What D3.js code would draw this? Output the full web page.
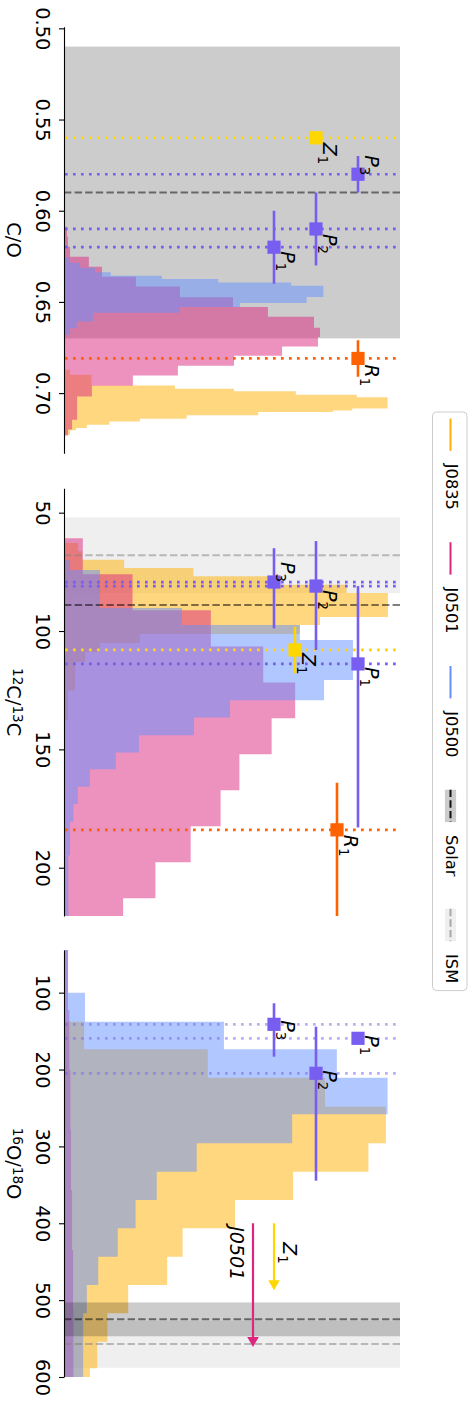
<!DOCTYPE html>
<html><head><meta charset="utf-8">
<script src="https://cdn.jsdelivr.net/npm/d3@7/dist/d3.min.js"></script>
<style>
body{margin:0;background:#fff}
svg{display:block}
text{font-family:"DejaVu Sans",sans-serif;fill:#000}
</style>
</head><body>
<svg id="c" width="469" height="1405"></svg>
<script>
// ---------------- DATA ----------------
const seriesNames = ["J0835","J0501","J0500"];
const seriesColors = ["#FFB000","#DC267F","#648FFF"];

// C/O panel
const coTicks = [0.50,0.55,0.60,0.65,0.70];
const coTickLabels = ["0.50","0.55","0.60","0.65","0.70"];
const coJ0835Edges = [0.6872,0.6899,0.6958,0.6976,0.6990,0.7009,0.7023,0.7085,0.7095,0.7103,0.7122,0.7140,0.7155,0.7173,0.7191,0.7204,0.7228];
const coJ0835Counts = [1.8,8.2,33.0,50.6,69.0,87.1,96.3,85.8,80.0,57.8,36.5,22.6,13.5,6.8,3.6,1.8];
const coJ0501Edges = [0.6088,0.6142,0.6197,0.6252,0.6307,0.6362,0.6416,0.6474,0.6528,0.6581,0.6641,0.6693,0.6745,0.6795,0.6850,0.6904,0.6959,0.7018,0.7080,0.7146,0.7200,0.7233];
const coJ0501Counts = [0.9,1.2,1.8,7.4,11.3,21.4,34.5,50.3,60.7,74.4,76.2,75.6,64.9,50.6,33.9,20.5,8.3,3.9,3.9,2.4,1.2];
const coJ0500Edges = [0.6257,0.6285,0.6312,0.6337,0.6356,0.6374,0.6393,0.6411,0.6473,0.6506,0.6528,0.6559,0.6607,0.6643,0.6680];
const coJ0500Counts = [1.8,4.8,9.2,13.9,29.1,45.9,67.6,77.2,72.2,52.4,34.5,8.6,3.8,1.8];
const coSolar = 0.59, coSolarBand = [0.51,0.67];
const coPointNames = ["Z_1","P_3","P_2","P_1","R_1"];
const coPointVals = [0.56,0.58,0.61,0.62,0.681];
const coPointLo = [null,0.57,0.59,0.60,0.671];
const coPointHi = [null,0.59,0.63,0.64,0.691];

// 12C/13C panel
const cTicks = [50,100,150,200];
const cTickLabels = ["50","100","150","200"];
const cJ0835Edges = [62.8,66.3,69.9,73.4,76.9,80.4,83.9,94.1,97.5,101.3,105.1,108.9,113.1,125.0,137.6];
const cJ0835Counts = [4.2,5.4,17.9,38.5,60.7,84.1,96.4,76.2,70.2,22.6,10.7,6.3,3.3,1.2];
const cJ0501Edges = [60.8,76.0,91.2,106.5,121.7,136.9,152.1,167.3,182.5,197.7,212.9,228.1];
const cJ0501Counts = [5.6,20.4,43.7,59.3,68.8,61.8,52.2,46.6,37.7,27.2,17.6];
const cJ0500Edges = [70.0,74.2,90.3,97.5,103.8,120.7,129.2,136.5,144.0,151.3,158.4,165.8,173.1,180.6,194.7,220.4];
const cJ0500Counts = [1.8,10.7,35.1,70.2,86.0,77.4,49.4,38.7,22.3,15.4,7.7,4.1,2.8,1.8,1.3];
const cSolar = 89, cIsm = 68, cIsmBand = [52,84];
const cPointNames = ["P_3","P_2","P_1","Z_1","R_1"];
const cPointVals = [79.3,81.0,113.9,108.0,184.0];
const cPointLo = [65.0,62.0,81.0,98.2,164.1];
const cPointHi = [98.9,108.0,183.0,117.9,240.0];

// 16O/18O panel
const oTicks = [100,200,300,400,500,600];
const oTickLabels = ["100","200","300","400","500","600"];
const oJ0835Edges = [137.8,173.7,210.6,248.3,296.0,332.9,369.7,406.5,443.5,480.3,517.1,554.1,588.7,600.0];
const oJ0835Counts = [6.0,42.8,77.7,95.8,90.6,68.2,50.9,35.3,30.7,19.1,12.9,9.9,7.7];
const oJ0501Edges = [44.5,122.6,200.6,278.7,356.7,434.8,512.8,600.0];
const oJ0501Counts = [1.2,1.6,1.9,2.1,2.4,2.7,2.8];
const oJ0500Edges = [44.5,100.1,137.8,173.7,210.6,258.2,296.0,332.9,369.7,406.5,443.5,480.3,517.1,554.1,600.0];
const oJ0500Counts = [1.2,6.25,47.6,81.2,96.3,67.9,39.5,27.6,21.3,16.0,10.2,6.8,5.7,5.7];
const oSolar = 525, oSolarBand = [503,547], oIsm = 557, oIsmBand = [527,588];
const oPointNames = ["P_3","P_1","P_2"];
const oPointVals = [141.2,159.4,204.9];
const oPointLo = [113.8,null,144.3];
const oPointHi = [183.3,null,344.6];
const oLimitNames = ["Z_1","J0501"];
const oLimitFrom = [400,400];
const oLimitTo = [487,561];

const legendNames = ["J0835","J0501","J0500","Solar","ISM"];

// ---------------- LAYOUT / STYLE ----------------
const svg = d3.select("#c");
const X0 = 64, X1 = 400;
const xCount = d3.scaleLinear().domain([0,100]).range([X0,X1]);
const xFrac = d3.scaleLinear().domain([0,1]).range([X0,X1]);
const pointColor = {P:"#785EF0", Z:"#FFD700", R:"#FE6100", J:"#DC267F"};
const SOLAR_FILL="#cccccc", ISM_FILL="#efefef";

function histPath(edges, counts, y){
  const p = d3.path();
  p.moveTo(X0, y(edges[0]));
  counts.forEach((c,i)=>{ p.lineTo(xCount(c), y(edges[i])); p.lineTo(xCount(c), y(edges[i+1])); });
  p.lineTo(X0, y(edges[edges.length-1]));
  p.closePath();
  return p.toString();
}

function mathLabel(parent, x, y, name, size, color){
  const parts = name.split("_");
  const t = parent.append("text").attr("transform",`translate(${x},${y}) rotate(90)`)
    .attr("font-size",size).attr("fill",color||"#000");
  t.append("tspan").attr("font-style","italic").text(parts[0]);
  if(parts[1]) t.append("tspan").attr("font-size",size*0.7).attr("dy",5).text(parts[1]);
}

const panels = [
  { id:1, y:d3.scaleLinear().domain([0.4991,0.7330]).range([26.7,453.3]),
    ticks:coTicks, tickLabels:coTickLabels,
    label:[["C/O",false]],
    under:[{lo:coSolarBand[0],hi:coSolarBand[1],fill:SOLAR_FILL}], over:[],
    hists:[[coJ0835Edges,coJ0835Counts],[coJ0501Edges,coJ0501Counts],[coJ0500Edges,coJ0500Counts]],
    refs:[{v:coSolar,color:"#000",op:0.5}],
    names:coPointNames, vals:coPointVals, lo:coPointLo, hi:coPointHi,
    cols:[0.75,0.875,0.75,0.625,0.875], lab:[5,-19,5,4,6], dotOp:1 },
  { id:2, y:d3.scaleLinear().domain([39.7,220.4]).range([488.3,916]),
    ticks:cTicks, tickLabels:cTickLabels,
    label:[["12",true],["C/",false],["13",true],["C",false]],
    under:[{lo:cIsmBand[0],hi:cIsmBand[1],fill:ISM_FILL}], over:[],
    hists:[[cJ0835Edges,cJ0835Counts],[cJ0501Edges,cJ0501Counts],[cJ0500Edges,cJ0500Counts]],
    refs:[{v:cIsm,color:"#808080",op:0.5},{v:cSolar,color:"#000",op:0.5}],
    names:cPointNames, vals:cPointVals, lo:cPointLo, hi:cPointHi,
    cols:[0.625,0.75,0.875,0.6875,0.8125], lab:[-20,4,3,3,5], dotOp:1 },
  { id:3, y:d3.scaleLinear().domain([44.5,600]).range([950,1377]),
    ticks:oTicks, tickLabels:oTickLabels,
    label:[["16",true],["O/",false],["18",true],["O",false]],
    under:[{lo:oIsmBand[0],hi:oIsmBand[1],fill:ISM_FILL}],
    over:[{lo:oSolarBand[0],hi:oSolarBand[1],fill:"#000",op:0.2}],
    hists:[[oJ0835Edges,oJ0835Counts],[oJ0501Edges,oJ0501Counts],[oJ0500Edges,oJ0500Counts]],
    refs:[{v:oSolar,color:"#000",op:0.5},{v:oIsm,color:"#808080",op:0.5}],
    names:oPointNames, vals:oPointVals, lo:oPointLo, hi:oPointHi,
    cols:[0.625,0.875,0.75], lab:[-4,-3,-3], dotOp:0.5 }
];

panels.forEach(cfg=>{
  const y = cfg.y;
  const [r0,r1] = y.range();
  const clipId = "clip"+cfg.id;
  svg.append("clipPath").attr("id",clipId).append("rect")
    .attr("x",X0).attr("y",r0).attr("width",X1-X0+2).attr("height",r1-r0);
  const g = svg.append("g").attr("clip-path",`url(#${clipId})`);
  const band = b => g.append("rect").attr("x",X0).attr("width",X1-X0)
      .attr("y",y(b.lo)).attr("height",y(b.hi)-y(b.lo))
      .attr("fill",b.fill).attr("fill-opacity",b.op==null?1:b.op);
  cfg.under.forEach(band);
  cfg.hists.forEach((h,i)=> g.append("path").attr("d",histPath(h[0],h[1],y))
      .attr("fill",seriesColors[i]).attr("fill-opacity",0.5));
  cfg.over.forEach(band);
  cfg.refs.forEach(r=> g.append("line").attr("x1",X0).attr("x2",X1)
      .attr("y1",y(r.v)).attr("y2",y(r.v)).attr("stroke",r.color).attr("stroke-opacity",r.op)
      .attr("stroke-width",2).attr("stroke-dasharray","7.4,3.2"));
  cfg.names.forEach((n,i)=>{
    g.append("line").attr("x1",X0+1).attr("x2",X1).attr("y1",y(cfg.vals[i])).attr("y2",y(cfg.vals[i]))
      .attr("stroke",pointColor[n[0]]).attr("stroke-opacity",cfg.dotOp)
      .attr("stroke-width",2.7).attr("stroke-dasharray","2.7,5.3");
  });
  cfg.names.forEach((n,i)=>{
    const cx = xFrac(cfg.cols[i]), cy = y(cfg.vals[i]), col = pointColor[n[0]];
    if(cfg.lo[i]!=null){
      g.append("line").attr("x1",cx).attr("x2",cx).attr("y1",y(cfg.lo[i])).attr("y2",y(cfg.hi[i]))
        .attr("stroke",col).attr("stroke-width",2.6);
    }
    g.append("rect").attr("x",cx-6.6).attr("y",cy-6.6).attr("width",13.2).attr("height",13.2).attr("fill",col);
  });
  cfg.names.forEach((n,i)=>{
    const cx = xFrac(cfg.cols[i]), cy = y(cfg.vals[i]);
    mathLabel(svg, cx+6.8, cy+cfg.lab[i], n, 19);
  });
  const ax = svg.append("g").attr("transform",`translate(${X0},0)`)
    .call(d3.axisLeft(y).tickValues(cfg.ticks).tickFormat((d,i)=>cfg.tickLabels[i]).tickSize(5).tickSizeOuter(0));
  ax.selectAll("path.domain").attr("stroke","#000").attr("stroke-width",1.1);
  ax.selectAll(".tick line").attr("stroke","#000").attr("stroke-width",1.1);
  ax.selectAll(".tick text").attr("x",null).attr("dy",null).attr("text-anchor","middle")
    .attr("font-family","DejaVu Sans").attr("font-size",19.4).attr("fill","#000")
    .attr("transform",`translate(${35.8-X0},0) rotate(90)`);
  const lt = svg.append("text").attr("transform",`translate(6.5,${(r0+r1)/2}) rotate(90)`)
    .attr("text-anchor","middle").attr("font-size",19.4);
  let shifted = 0;
  cfg.label.forEach(([s,sup])=>{
    const ts = lt.append("tspan").text(s);
    if(sup){ ts.attr("font-size",13.6).attr("dy",-6-shifted); shifted=-6; }
    else { ts.attr("dy",-shifted); shifted=0; }
  });
  if(cfg.id===3){
    const limCols = [0.625,0.5625];
    oLimitNames.forEach((n,i)=>{
      const cx = xFrac(limCols[i]), col = pointColor[n[0]];
      const a = y(oLimitFrom[i]), b = y(oLimitTo[i]);
      const hl = 10, hw = 5.8;
      svg.append("line").attr("x1",cx).attr("x2",cx).attr("y1",a).attr("y2",b-hl+1)
        .attr("stroke",col).attr("stroke-width",2.2);
      svg.append("path").attr("d",`M${cx-hw},${b-hl}L${cx+hw},${b-hl}L${cx},${b}Z`).attr("fill",col);
    });
    mathLabel(svg, xFrac(0.625)+8.5, y(oLimitFrom[0])+19, oLimitNames[0], 19);
    svg.append("text").attr("transform",`translate(${229.5},${y(oLimitFrom[1])+3}) rotate(90)`)
      .attr("font-size",19).attr("font-style","italic").text(oLimitNames[1]);
  }
});

// ---------------- LEGEND ----------------
const lg = svg.append("g");
const box = lg.append("rect").attr("x",432.5).attr("y",412).attr("width",34.5).attr("rx",4).attr("ry",4)
  .attr("fill","#fff").attr("fill-opacity",0.8).attr("stroke","#cccccc").attr("stroke-width",1);
const fs = 16.2;
let yy = 412 + 0.4*fs;
const LX = 450.5;
legendNames.forEach((n,i)=>{
  const h0 = yy, h1 = yy + 2*fs;
  if(i<3){
    lg.append("line").attr("x1",LX).attr("x2",LX).attr("y1",h0).attr("y2",h1)
      .attr("stroke",seriesColors[i]).attr("stroke-width",2);
  } else {
    lg.append("rect").attr("x",LX-5.6).attr("y",h0).attr("width",11.2).attr("height",h1-h0)
      .attr("fill", i===3?SOLAR_FILL:ISM_FILL);
    lg.append("line").attr("x1",LX).attr("x2",LX).attr("y1",h0).attr("y2",h1)
      .attr("stroke", i===3?"#111":"#a8a8a8").attr("stroke-width",2).attr("stroke-dasharray","7.4,3.2");
  }
  const ty = h1 + 0.8*fs;
  const t = lg.append("text").attr("transform",`translate(445.5,${ty}) rotate(90)`)
    .attr("font-size",fs).text(n);
  const len = t.node().getComputedTextLength();
  yy = ty + len + 2*fs;
});
box.attr("height", (yy - 2*fs + 0.4*fs + 1) - 412);
</script>
</body></html>
